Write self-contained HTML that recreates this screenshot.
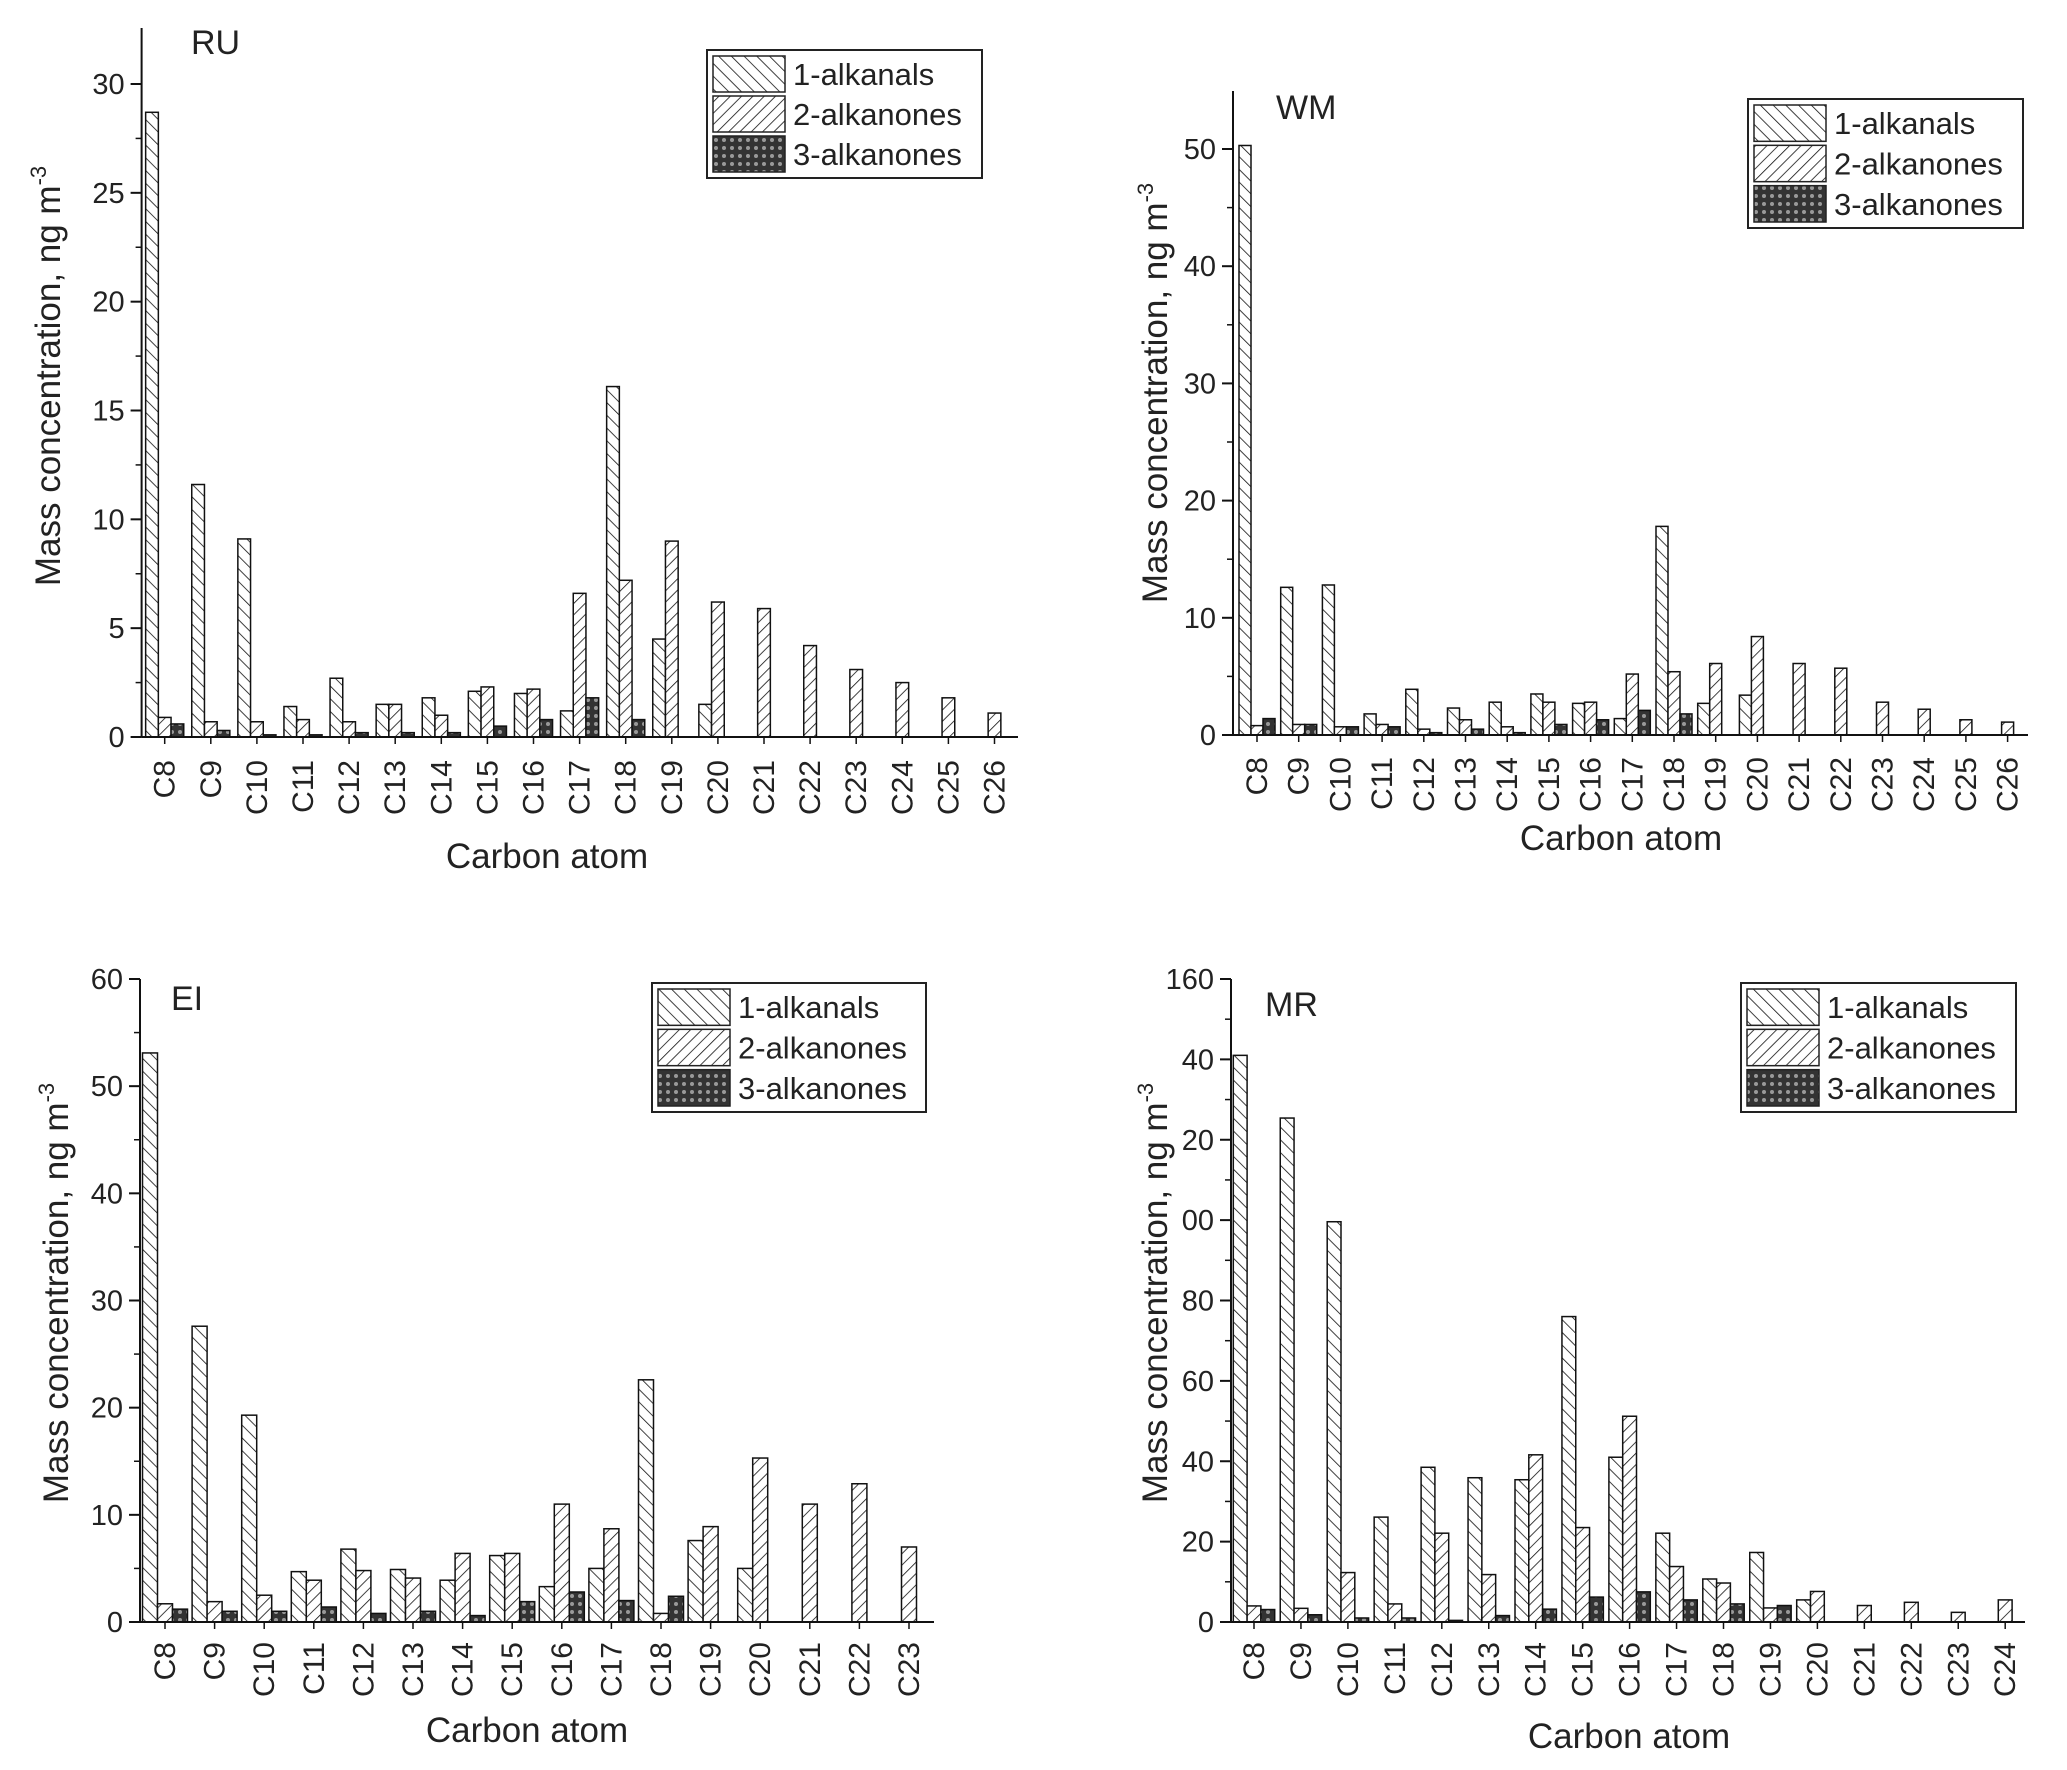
<!DOCTYPE html>
<html><head><meta charset="utf-8"><style>
html,body{margin:0;padding:0;background:#fff;}
svg{display:block;font-family:"Liberation Sans",Arial,sans-serif;}
</style></head><body>
<svg id="fig" width="2067" height="1770" viewBox="0 0 2067 1770" xmlns="http://www.w3.org/2000/svg">
<defs>
<pattern id="pAl" patternUnits="userSpaceOnUse" width="9" height="9" patternTransform="rotate(-45)"><rect width="9" height="9" fill="#fff"/><line x1="0" y1="0" x2="0" y2="9" stroke="#111" stroke-width="1.6"/></pattern>
<pattern id="pK2" patternUnits="userSpaceOnUse" width="8" height="8" patternTransform="rotate(45)"><rect width="8" height="8" fill="#fff"/><line x1="0" y1="0" x2="0" y2="8" stroke="#111" stroke-width="1.6"/></pattern>
<pattern id="pK3" patternUnits="userSpaceOnUse" width="8" height="8"><rect width="8" height="8" fill="#333"/><circle cx="4" cy="4" r="2" fill="#999"/></pattern>
</defs>
</svg>
<script>
// ---- RU data ----
const ruCats = ["C8","C9","C10","C11","C12","C13","C14","C15","C16","C17","C18","C19","C20","C21","C22","C23","C24","C25","C26"];
const ruAlkanals = [28.7,11.6,9.1,1.4,2.7,1.5,1.8,2.1,2.0,1.2,16.1,4.5,1.5,0,0,0,0,0,0];
const ruAlkanones2 = [0.9,0.7,0.7,0.8,0.7,1.5,1.0,2.3,2.2,6.6,7.2,9.0,6.2,5.9,4.2,3.1,2.5,1.8,1.1];
const ruAlkanones3 = [0.6,0.3,0.1,0.1,0.2,0.2,0.2,0.5,0.8,1.8,0.8,0,0,0,0,0,0,0,0];
const ruTicks = [0,5,10,15,20,25,30];
const ruTickLabels = ["0","5","10","15","20","25","30"];
// ---- WM data ----
const wmCats = ["C8","C9","C10","C11","C12","C13","C14","C15","C16","C17","C18","C19","C20","C21","C22","C23","C24","C25","C26"];
const wmAlkanals = [50.3,12.6,12.8,1.8,3.9,2.3,2.8,3.5,2.7,1.4,17.8,2.7,3.4,0,0,0,0,0,0];
const wmAlkanones2 = [0.8,0.9,0.7,0.9,0.5,1.3,0.7,2.8,2.8,5.2,5.4,6.1,8.4,6.1,5.7,2.8,2.2,1.3,1.1];
const wmAlkanones3 = [1.4,0.9,0.7,0.7,0.2,0.5,0.2,0.9,1.3,2.1,1.8,0,0,0,0,0,0,0,0];
const wmTicks = [0,10,20,30,40,50];
const wmTickLabels = ["0","10","20","30","40","50"];
// ---- EI data ----
const eiCats = ["C8","C9","C10","C11","C12","C13","C14","C15","C16","C17","C18","C19","C20","C21","C22","C23"];
const eiAlkanals = [53.1,27.6,19.3,4.7,6.8,4.9,3.9,6.2,3.3,5.0,22.6,7.6,5.0,0,0,0];
const eiAlkanones2 = [1.7,1.9,2.5,3.9,4.8,4.1,6.4,6.4,11.0,8.7,0.8,8.9,15.3,11.0,12.9,7.0];
const eiAlkanones3 = [1.2,1.0,1.0,1.4,0.8,1.0,0.6,1.9,2.8,2.0,2.4,0,0,0,0,0];
const eiTicks = [0,10,20,30,40,50,60];
const eiTickLabels = ["0","10","20","30","40","50","60"];
// ---- MR data ----
const mrCats = ["C8","C9","C10","C11","C12","C13","C14","C15","C16","C17","C18","C19","C20","C21","C22","C23","C24"];
const mrAlkanals = [141,125.4,99.6,26.1,38.5,35.9,35.4,76,41,22.1,10.7,17.3,5.5,0,0,0,0];
const mrAlkanones2 = [4.0,3.4,12.3,4.5,22.1,11.8,41.6,23.5,51.2,13.8,9.7,3.5,7.6,4.1,4.9,2.4,5.5];
const mrAlkanones3 = [3.1,1.8,1.0,1.0,0.4,1.6,3.2,6.2,7.5,5.5,4.5,4.1,0,0,0,0,0];
const mrTicks = [0,20,40,60,80,100,120,140,160];
const mrTickLabels = ["0","20","40","60","80","00","20","40","160"];

const NS = "http://www.w3.org/2000/svg";
const svg = document.getElementById("fig");
function mk(tag, attrs, parent, text){
  const e = document.createElementNS(NS, tag);
  for (const k in attrs) e.setAttribute(k, attrs[k]);
  if (text !== undefined) e.textContent = text;
  (parent||svg).appendChild(e);
  return e;
}

function panel(cfg, cats, s1, s2, s3, ticks, tickLabels){
  const g = mk("g", {});
  
  
  const yScale = v => cfg.y0 - (v - 0) * (cfg.y0 - cfg.yRefPx) / cfg.yRef;
  const xScale = i => cfg.x1 + i * cfg.step;
  const bw = cfg.bw;
  // bars
  const series = [[s1,"url(#pAl)","alkanal"],[s2,"url(#pK2)","2-alkanone"],[s3,"url(#pK3)","3-alkanone"]];
  series.forEach((sr, si) => {
    sr[0].forEach((v, i) => {
      if (v <= 0) return;
      const x = xScale(i) + (si - 1.5) * bw;
      const y = yScale(v);
      const r = mk("rect", {x: x, y: y, width: bw, height: cfg.y0 - y, fill: sr[1], stroke: "#111", "stroke-width": 1.5}, g);
      
      
    });
  });
  // axes
  const ya = mk("line", {x1: cfg.ax, y1: cfg.yTop, x2: cfg.ax, y2: cfg.y0, stroke: "#111", "stroke-width": 2}, g);
  
  
  const xa = mk("line", {x1: cfg.ax, y1: cfg.y0, x2: cfg.xEnd, y2: cfg.y0, stroke: "#111", "stroke-width": 2}, g);
  
  
  // y ticks
  ticks.forEach((t, i) => {
    const y = yScale(t);
    mk("line", {x1: cfg.ax - 11, y1: y, x2: cfg.ax, y2: y, stroke: "#111", "stroke-width": 2}, g);
    if (i < ticks.length - 1) {
      const ym = yScale((t + ticks[i+1]) / 2);
      mk("line", {x1: cfg.ax - 6, y1: ym, x2: cfg.ax, y2: ym, stroke: "#111", "stroke-width": 1.5}, g);
    }
    const tl = mk("text", {x: cfg.ax - 17, y: y + 10, "text-anchor": "end", "font-size": 29, fill: "#222"}, g, tickLabels[i]);
    
    
  });
  // x tick labels
  cats.forEach((c, i) => {
    const x = xScale(i);
    mk("line", {x1: x, y1: cfg.y0, x2: x, y2: cfg.y0 + 7, stroke: "#111", "stroke-width": 1.5}, g);
    const t = mk("text", {x: 0, y: 0, "text-anchor": "end", "font-size": 30, fill: "#222",
      transform: "translate(" + (x + 10) + "," + cfg.xlY + ") rotate(-90)"}, g, c);
    
    
  });
  // titles
  const xt = mk("text", {x: cfg.xtX, y: cfg.xtY, "text-anchor": "middle", "font-size": 35, fill: "#222"}, g, "Carbon atom");
  
  
  const yt = mk("text", {x: 0, y: 0, "text-anchor": "middle", "font-size": 35, fill: "#222",
    transform: "translate(" + cfg.ytX + "," + cfg.ytY + ") rotate(-90)"}, g);
  
  
  mk("tspan", {}, yt, "Mass concentration, ng m");
  mk("tspan", {dy: -14, "font-size": 22}, yt, "-3");
  const pl = mk("text", {x: cfg.lblX, y: cfg.lblY, "font-size": 34, fill: "#222"}, g, cfg.label);
  
  
  // legend
  const lg = mk("g", {}, g);
  
  
  mk("rect", {x: cfg.lgX, y: cfg.lgY, width: cfg.lgW, height: cfg.lgH, fill: "#fff", stroke: "#222", "stroke-width": 2}, lg);
  const names = ["1-alkanals","2-alkanones","3-alkanones"];
  const fills = ["url(#pAl)","url(#pK2)","url(#pK3)"];
  const rh = (cfg.lgH - 8) / 3;
  names.forEach((n, i) => {
    const e = mk("g", {}, lg);
    
    
    mk("rect", {x: cfg.lgX + 6, y: cfg.lgY + 4 + i * rh + 2, width: 72, height: rh - 4, fill: fills[i], stroke: "#222", "stroke-width": 1.5}, e);
    mk("text", {x: cfg.lgX + 86, y: cfg.lgY + 4 + i * rh + rh / 2 + 11, "font-size": 31, fill: "#222"}, e, n);
  });
}

panel({id:"ru", label:"RU", ax:141.6, yTop:28, y0:737, yRef:30, yRefPx:84, xEnd:1018, x1:164.7, step:46.1, bw:12.7,
  xlY:760, xtX:547, xtY:868, ytX:60, ytY:376, lblX:191, lblY:54, lgX:707, lgY:50, lgW:275, lgH:128},
  ruCats, ruAlkanals, ruAlkanones2, ruAlkanones3, ruTicks, ruTickLabels);
panel({id:"wm", label:"WM", ax:1233, yTop:91, y0:735, yRef:50, yRefPx:149, xEnd:2028, x1:1257, step:41.7, bw:12,
  xlY:757, xtX:1621, xtY:850, ytX:1167, ytY:393, lblX:1276, lblY:119, lgX:1748, lgY:99, lgW:275, lgH:129},
  wmCats, wmAlkanals, wmAlkanones2, wmAlkanones3, wmTicks, wmTickLabels);
panel({id:"ei", label:"EI", ax:140, yTop:979, y0:1622, yRef:60, yRefPx:979, xEnd:934, x1:165, step:49.6, bw:15,
  xlY:1642, xtX:527, xtY:1742, ytX:68, ytY:1293, lblX:171, lblY:1010, lgX:652, lgY:983, lgW:274, lgH:129},
  eiCats, eiAlkanals, eiAlkanones2, eiAlkanones3, eiTicks, eiTickLabels);
panel({id:"mr", label:"MR", ax:1231, yTop:979, y0:1622, yRef:160, yRefPx:979, xEnd:2025, x1:1254, step:46.95, bw:13.8,
  xlY:1642, xtX:1629, xtY:1748, ytX:1167, ytY:1293, lblX:1265, lblY:1016, lgX:1741, lgY:983, lgW:275, lgH:129},
  mrCats, mrAlkanals, mrAlkanones2, mrAlkanones3, mrTicks, mrTickLabels);
</script>
</body></html>
